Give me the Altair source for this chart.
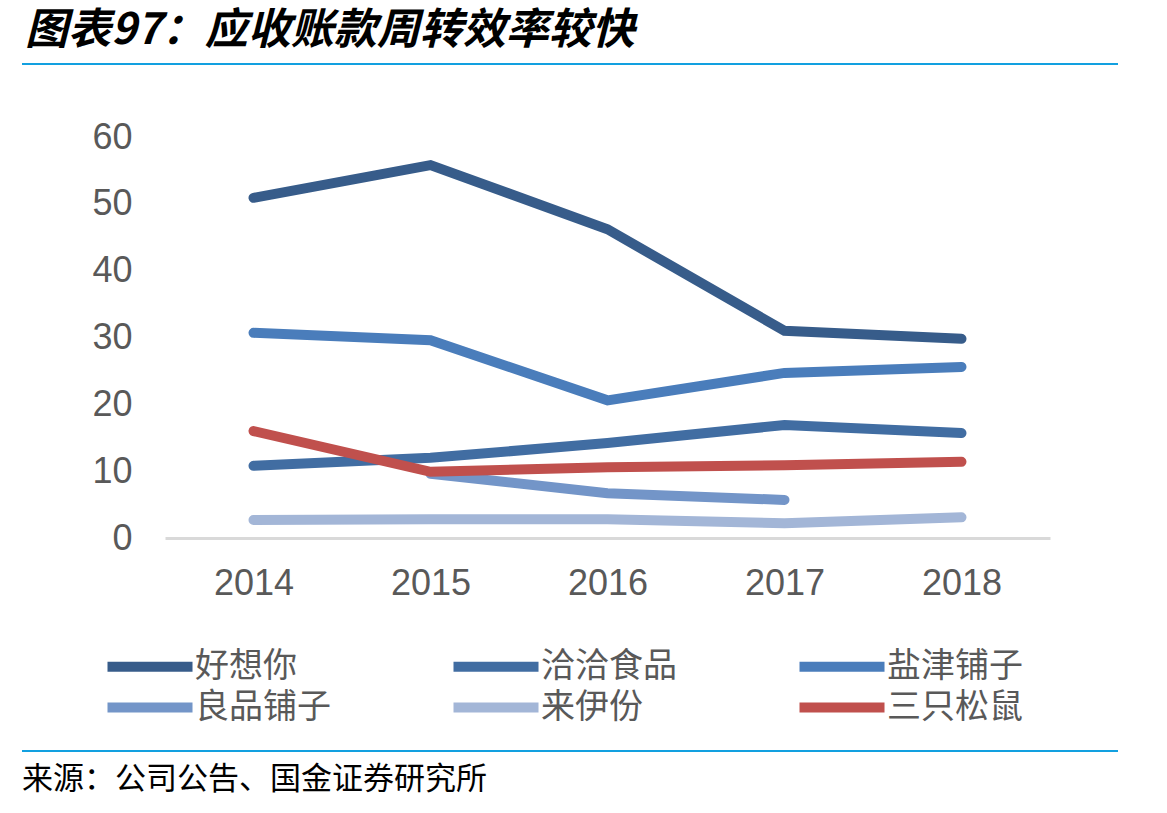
import altair as alt
import pandas as pd

years = ["2014", "2015", "2016", "2017", "2018"]
series_names = ["好想你", "洽洽食品", "盐津铺子", "良品铺子", "来伊份", "三只松鼠"]
colors = ["#375C8A", "#416DA2", "#4A7DBB", "#7395C8", "#A3B6D7", "#C0504D"]

haoxiangni = [50.9, 55.8, 46.2, 31.0, 29.8]
qiaqia = [10.8, 12.0, 14.2, 16.9, 15.7]
yanjin = [30.7, 29.6, 20.6, 24.7, 25.6]
liangpin = [None, 9.6, 6.7, 5.7, None]
laiyifen = [2.7, 2.8, 2.8, 2.2, 3.1]
sanzhi = [16.0, 9.9, 10.6, 10.9, 11.4]

title_text = "图表97：应收账款周转效率较快"
source_text = "来源：公司公告、国金证券研究所"

rows = []
for name, vals in zip(series_names, [haoxiangni, qiaqia, yanjin, liangpin, laiyifen, sanzhi]):
    for i, (y, v) in enumerate(zip(years, vals)):
        if v is not None:
            rows.append({"year": y, "value": v, "series": name,
                         "k": series_names.index(name)})
df = pd.DataFrame(rows)

W, H = 885, 401
LEFT, TOP = 165, 137

lines = alt.Chart(df).mark_line(strokeWidth=10, strokeCap="round", strokeJoin="miter").encode(
    x=alt.X("year:O", scale=alt.Scale(domain=years, paddingOuter=0.5, paddingInner=0),
            axis=alt.Axis(title=None, labelAngle=0, labelFontSize=36, labelColor="#595959",
                          labelFont="Liberation Sans", labelPadding=28, ticks=False,
                          domainColor="#D9D9D9", domainWidth=3)),
    y=alt.Y("value:Q", scale=alt.Scale(domain=[0, 60], nice=False),
            axis=alt.Axis(title=None, values=[0, 10, 20, 30, 40, 50, 60], labelFontSize=36,
                          labelColor="#595959", labelFont="Liberation Sans", labelPadding=33,
                          ticks=False, domain=False, grid=False)),
    color=alt.Color("series:N", scale=alt.Scale(domain=series_names, range=colors),
                    legend=alt.Legend(title=None, orient="none", legendX=-77, legendY=510,
                                      columns=3, direction="horizontal",
                                      symbolType="M0,0H6", symbolSize=803,
                                      symbolStrokeWidth=10, labelFontSize=34,
                                      labelFont="Noto Sans CJK SC", labelColor="#595959",
                                      labelOffset=68, columnPadding=102, rowPadding=0,
                                      labelLimit=400)),
    order=alt.Order("k:Q"),
    detail="series:N",
)

one = pd.DataFrame({"a": [0]})

title = alt.Chart(one).mark_text(text=title_text, fontSize=43, fontWeight="bold", fontStyle="italic",
                                 font="Noto Sans CJK SC", align="left", baseline="middle",
                                 color="#000000").encode(
    x=alt.value(25 - LEFT), y=alt.value(31 - TOP))

top_rule = alt.Chart(one).mark_rule(color="#12A0E0", strokeWidth=2).encode(
    x=alt.value(22 - LEFT), x2=alt.value(1118 - LEFT), y=alt.value(64 - TOP))

bottom_rule = alt.Chart(one).mark_rule(color="#12A0E0", strokeWidth=2).encode(
    x=alt.value(22 - LEFT), x2=alt.value(1118 - LEFT), y=alt.value(751 - TOP))

source = alt.Chart(one).mark_text(text=source_text, fontSize=31, font="Noto Sans CJK SC",
                                  align="left", baseline="middle", color="#000000").encode(
    x=alt.value(22 - LEFT), y=alt.value(780 - TOP))

chart = alt.layer(lines, title, top_rule, bottom_rule, source).properties(
    width=W, height=H,
    background="white",
    autosize=alt.AutoSizeParams(type="none"),
    padding={"left": LEFT, "top": TOP, "right": 1167 - LEFT - W, "bottom": 813 - TOP - H},
).configure_view(stroke=None)

chart.save("out.html", embed_options={"renderer": "svg", "actions": False})
